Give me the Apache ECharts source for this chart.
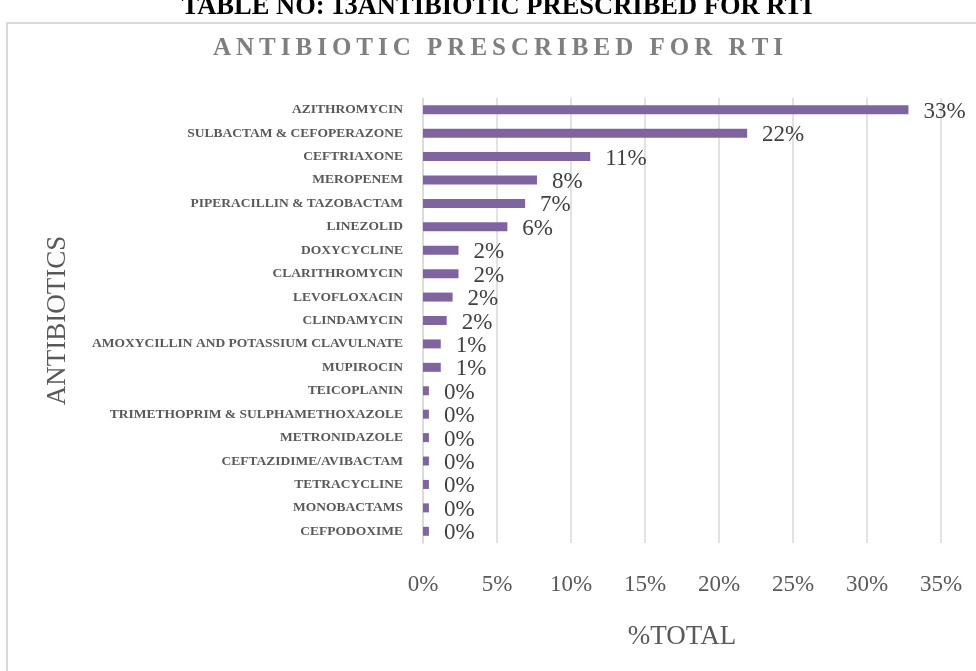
<!DOCTYPE html>
<html>
<head>
<meta charset="utf-8">
<script src="https://cdn.jsdelivr.net/npm/echarts@6/dist/echarts.min.js"></script>
<style>
html,body{margin:0;padding:0;background:#fff;}
#main{width:976px;height:671px;}
</style>
</head>
<body>
<div id="main"></div>
<script>
var categories = [
  "AZITHROMYCIN",
  "SULBACTAM & CEFOPERAZONE",
  "CEFTRIAXONE",
  "MEROPENEM",
  "PIPERACILLIN & TAZOBACTAM",
  "LINEZOLID",
  "DOXYCYCLINE",
  "CLARITHROMYCIN",
  "LEVOFLOXACIN",
  "CLINDAMYCIN",
  "AMOXYCILLIN AND POTASSIUM CLAVULNATE",
  "MUPIROCIN",
  "TEICOPLANIN",
  "TRIMETHOPRIM & SULPHAMETHOXAZOLE",
  "METRONIDAZOLE",
  "CEFTAZIDIME/AVIBACTAM",
  "TETRACYCLINE",
  "MONOBACTAMS",
  "CEFPODOXIME"
];
var values = [32.8, 21.9, 11.3, 7.7, 6.9, 5.7, 2.4, 2.4, 2.0, 1.6, 1.2, 1.2, 0.4, 0.4, 0.4, 0.4, 0.4, 0.4, 0.4];
var xTicks = [0, 5, 10, 15, 20, 25, 30, 35];
var chartTitle = "ANTIBIOTIC PRESCRIBED FOR RTI";
var headerText = "TABLE NO: 13ANTIBIOTIC PRESCRIBED FOR RTI";

function spaced(s) {
  return s.split(' ').map(function (w) { return w.split('').join('\u2009'); }).join('\u2009 \u2009');
}

var serif = "Liberation Serif";
var chart = echarts.init(document.getElementById('main'));
chart.setOption({
  backgroundColor: '#ffffff',
  animation: false,
  graphic: [
    {type: 'rect', shape: {x: 7, y: 23, width: 990, height: 680},
     style: {fill: 'none', stroke: '#d9d9d9', lineWidth: 2}},
    {type: 'text', x: 497, y: 21,
     style: {text: headerText, fill: '#000', font: 'bold 26.5px "Liberation Serif"', align: 'center', verticalAlign: 'bottom'}},
    {type: 'text', x: 498, y: 49,
     style: {text: spaced(chartTitle), fill: '#7f7f7f', font: 'bold 25px "Liberation Serif"', align: 'center', verticalAlign: 'middle'}}
  ],
  grid: {left: 423, right: 35, top: 98, bottom: 128},
  xAxis: {
    type: 'value', min: xTicks[0], max: xTicks[xTicks.length - 1], interval: xTicks[1] - xTicks[0],
    axisLine: {show: false}, axisTick: {show: false},
    splitLine: {lineStyle: {color: '#d9d9d9', width: 1.5}},
    axisLabel: {formatter: function(v){return v + '%';}, fontFamily: serif, fontSize: 23, color: '#595959', margin: 30},
    name: '%TOTAL', nameLocation: 'middle', nameGap: 80,
    nameTextStyle: {fontFamily: serif, fontSize: 27, color: '#595959'}
  },
  yAxis: {
    type: 'category', data: categories, inverse: true,
    axisLine: {show: true, lineStyle: {color: '#d9d9d9', width: 1.5}},
    axisTick: {show: false},
    axisLabel: {fontFamily: serif, fontSize: 13.5, fontWeight: 'bold', color: '#595959', margin: 20},
    name: 'ANTIBIOTICS', nameLocation: 'middle', nameGap: 352,
    nameTextStyle: {fontFamily: serif, fontSize: 27, color: '#595959'}
  },
  series: [{
    type: 'bar', data: values, barWidth: 9,
    itemStyle: {color: '#8064a2'},
    label: {show: true, position: 'right', distance: 15,
      formatter: function(p){return Math.round(p.value) + '%';},
      fontFamily: serif, fontSize: 23, color: '#404040', offset: [0, 2]}
  }]
});
</script>
</body>
</html>
